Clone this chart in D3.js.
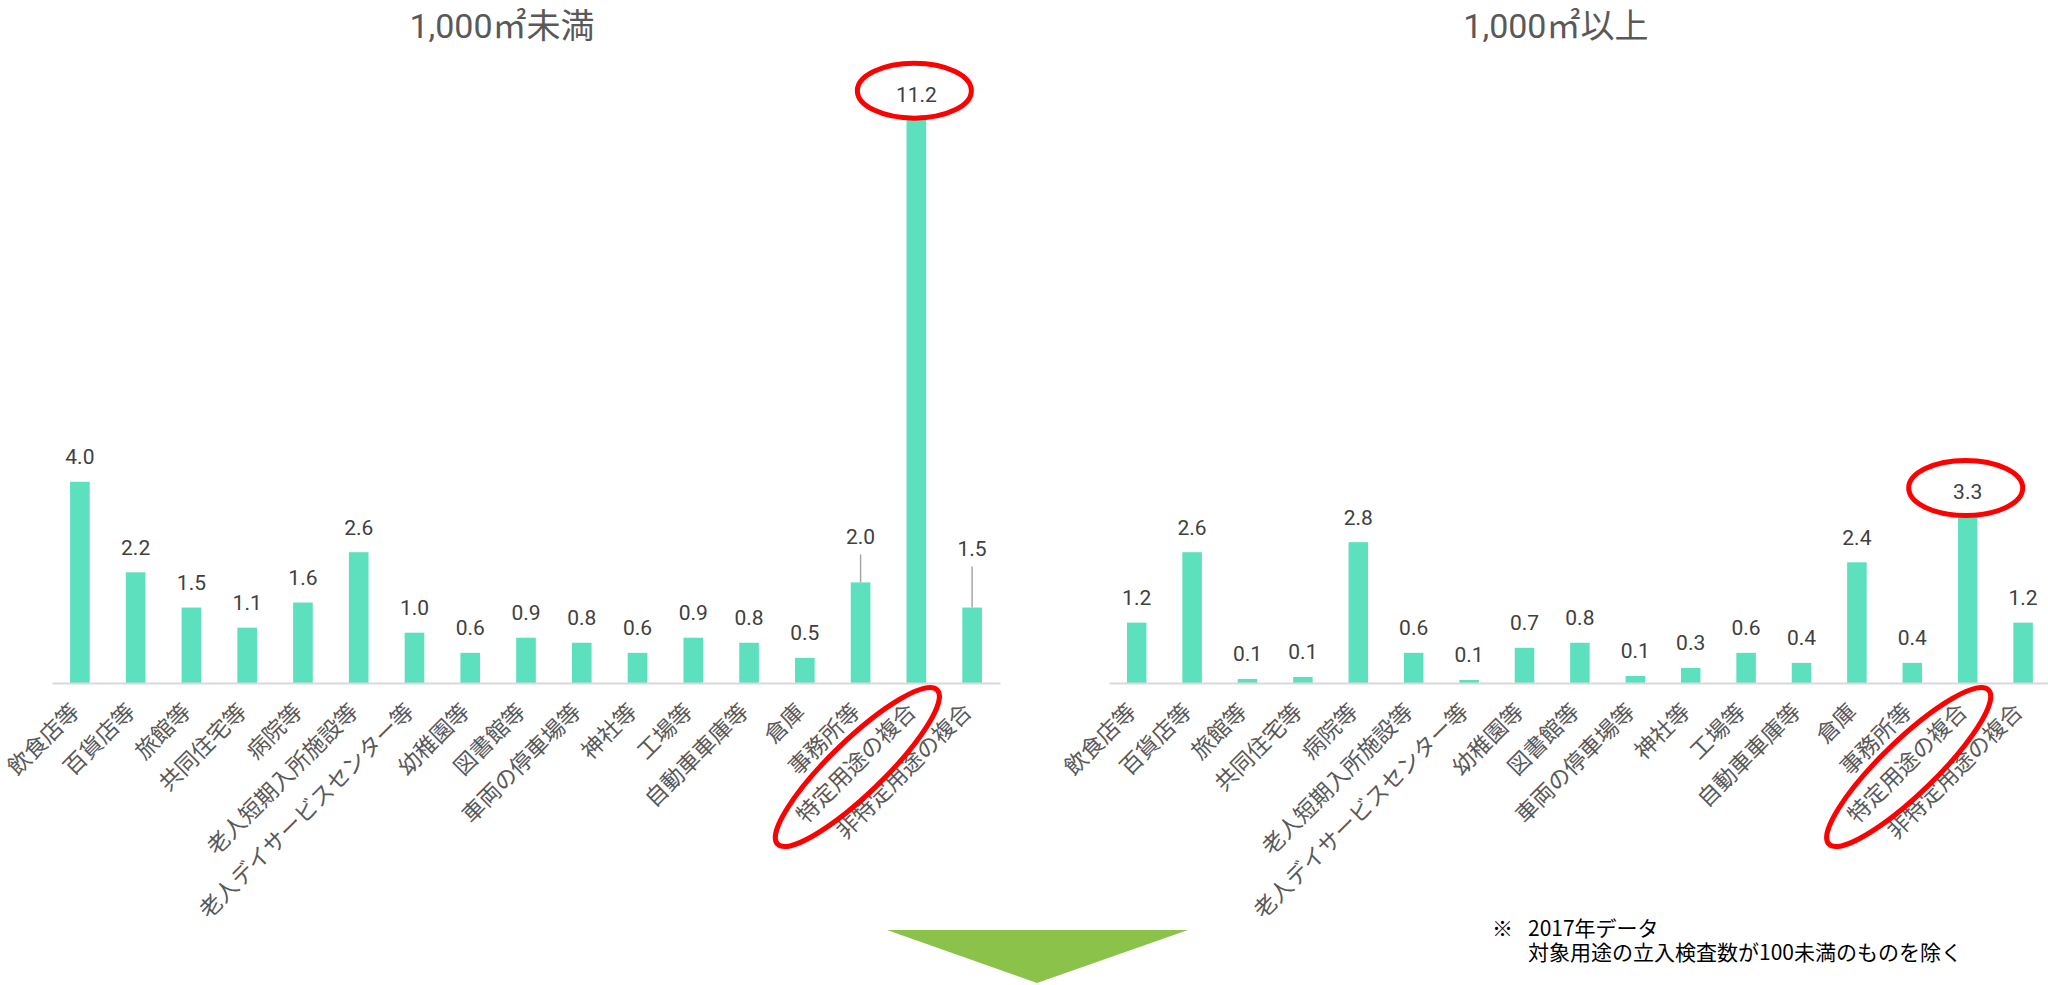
<!DOCTYPE html>
<html lang="ja">
<head>
<meta charset="utf-8">
<script src="https://cdn.jsdelivr.net/npm/d3@7"></script>
<style>
    body { margin: 0; background: #fff; }
    #chart-area { width: 2048px; height: 985px; }
    .cat-label { font-family: "Noto Sans CJK JP", sans-serif; font-size: 22.5px; fill: #595959; }
    .val-label { font-family: Roboto, "Noto Sans CJK JP", sans-serif; font-size: 21px; fill: #404040; }
    .panel-title { font-family: Roboto, "Noto Sans CJK JP", sans-serif; font-size: 34px; fill: #595959; }
    .note { font-family: "Noto Sans CJK JP", sans-serif; font-size: 21px; fill: #000; }
</style>
</head>
<body>
<div id="chart-area"></div>
<script>

// building uses (x axis)
const categories = [
    "飲食店等", "百貨店等", "旅館等", "共同住宅等", "病院等", "老人短期入所施設等",
    "老人デイサービスセンター等", "幼稚園等", "図書館等", "車両の停車場等", "神社等",
    "工場等", "自動車車庫等", "倉庫", "事務所等", "特定用途の複合", "非特定用途の複合"
];

// under 1,000 m2
const smallValues = [4.0, 2.2, 1.5, 1.1, 1.6, 2.6, 1.0, 0.6, 0.9, 0.8, 0.6, 0.9, 0.8, 0.5, 2.0, 11.2, 1.5];

// 1,000 m2 and over
const largeValues = [1.2, 2.6, 0.08, 0.12, 2.8, 0.6, 0.06, 0.7, 0.8, 0.14, 0.3, 0.6, 0.4, 2.4, 0.4, 3.3, 1.2];

const panelTitles = ["1,000㎡未満", "1,000㎡以上"];
const highlightCategory = "特定用途の複合";
const noteMark = "※";
const noteLines = ["2017年データ", "対象用途の立入検査数が100未満のものを除く"];


/* * * * * * * * * * * * * * * * * *
 *         class BarPanel          *
 * * * * * * * * * * * * * * * * * */

class BarPanel {

    constructor(svg, title, values, xRange, labelLift) {
        this.svg = svg;
        this.title = title;
        this.values = values;
        this.xRange = xRange;
        this.labelLift = labelLift || {};

        this.initVis();
    }

    initVis() {
        let vis = this;

        vis.baseline = 683;
        vis.data = categories.map((c, i) => ({cat: c, value: vis.values[i]}));

        vis.g = vis.svg.append("g");

        // scales (same unit height in both panels)
        vis.x = d3.scaleBand()
            .domain(categories)
            .range(vis.xRange)
            .paddingInner(0.648)
            .paddingOuter(0.324);
        vis.y = d3.scaleLinear()
            .domain([0, 12])
            .range([vis.baseline, vis.baseline - 12 * 50.3]);

        vis.updateVis();
    }

    updateVis() {
        let vis = this;
        let cx = (d) => vis.x(d) + vis.x.bandwidth() / 2;

        // title
        vis.g.append("text")
            .attr("class", "panel-title")
            .attr("x", (vis.xRange[0] + vis.xRange[1]) / 2 - 24)
            .attr("y", 26)
            .attr("dy", "0.35em")
            .attr("text-anchor", "middle")
            .text(vis.title);

        // bars
        vis.g.selectAll("rect.bar")
            .data(vis.data)
            .enter()
            .append("rect")
            .attr("class", "bar")
            .attr("fill", "#5ce0be")
            .attr("x", (d) => vis.x(d.cat))
            .attr("y", (d) => vis.y(d.value))
            .attr("width", vis.x.bandwidth())
            .attr("height", (d) => vis.baseline - vis.y(d.value));

        // axis with rotated category labels
        let axis = vis.g.append("g")
            .attr("transform", `translate(0, ${vis.baseline})`)
            .call(d3.axisBottom(vis.x).tickSize(0).tickSizeOuter(0));
        axis.select(".domain")
            .attr("stroke", "#d9d9d9")
            .attr("stroke-width", 2);
        axis.selectAll("text")
            .attr("class", "cat-label")
            .attr("x", 0)
            .attr("y", 0)
            .attr("dy", null)
            .attr("fill", null)
            .attr("transform", "translate(1, 30) rotate(-45)")
            .style("text-anchor", "end");
        axis.attr("font-size", null).attr("font-family", null);

        // leader lines for lifted labels
        let lifted = vis.data.filter((d) => vis.labelLift[d.cat]);
        vis.g.selectAll("line.leader")
            .data(lifted)
            .enter()
            .append("line")
            .attr("class", "leader")
            .attr("x1", (d) => cx(d.cat))
            .attr("x2", (d) => cx(d.cat))
            .attr("y1", (d) => vis.y(d.value) - vis.labelLift[d.cat] + 18)
            .attr("y2", (d) => vis.y(d.value))
            .attr("stroke", "#a6a6a6")
            .attr("stroke-width", 1.5);

        // value labels
        vis.g.selectAll("text.val-label")
            .data(vis.data)
            .enter()
            .append("text")
            .attr("class", "val-label")
            .attr("x", (d) => cx(d.cat))
            .attr("y", (d) => vis.y(d.value) - (vis.labelLift[d.cat] || 25))
            .attr("dy", "0.35em")
            .attr("text-anchor", "middle")
            .text((d) => d3.format(".1f")(d.value));

        // red circles around the highlighted use
        let hi = vis.data.find((d) => d.cat === highlightCategory);
        vis.g.insert("ellipse", "text.val-label")
            .attr("cx", cx(hi.cat) - 2)
            .attr("cy", vis.y(hi.value) - 29)
            .attr("rx", 57)
            .attr("ry", 27.5)
            .attr("fill", "#fff")
            .attr("stroke", "#ff0000")
            .attr("stroke-width", 5);

        vis.g.append("ellipse")
            .attr("transform", `translate(${cx(hi.cat) - 59}, ${vis.baseline + 84}) rotate(-44)`)
            .attr("rx", 111)
            .attr("ry", 27)
            .attr("fill", "none")
            .attr("stroke", "#ff0000")
            .attr("stroke-width", 5);
    }
}


let svg = d3.select("#chart-area").append("svg")
    .attr("width", 2048)
    .attr("height", 985);

let smallPanel = new BarPanel(svg, panelTitles[0], smallValues, [52, 1000],
    {"事務所等": 46, "非特定用途の複合": 59});
let largePanel = new BarPanel(svg, panelTitles[1], largeValues, [1109, 1109 + 17 * 55.4]);

// green arrow
svg.append("polygon")
    .attr("points", "887,930 1188,930 1037,983")
    .attr("fill", "#8bc34a");

// footnote
let note = svg.append("g").attr("class", "note");
note.append("text").attr("class", "note").attr("x", 1492).attr("y", 936).text(noteMark);
note.selectAll("text.line")
    .data(noteLines)
    .enter()
    .append("text")
    .attr("class", "note line")
    .attr("x", 1528)
    .attr("y", (d, i) => 936 + i * 24)
    .text((d) => d);

</script>
</body>
</html>
